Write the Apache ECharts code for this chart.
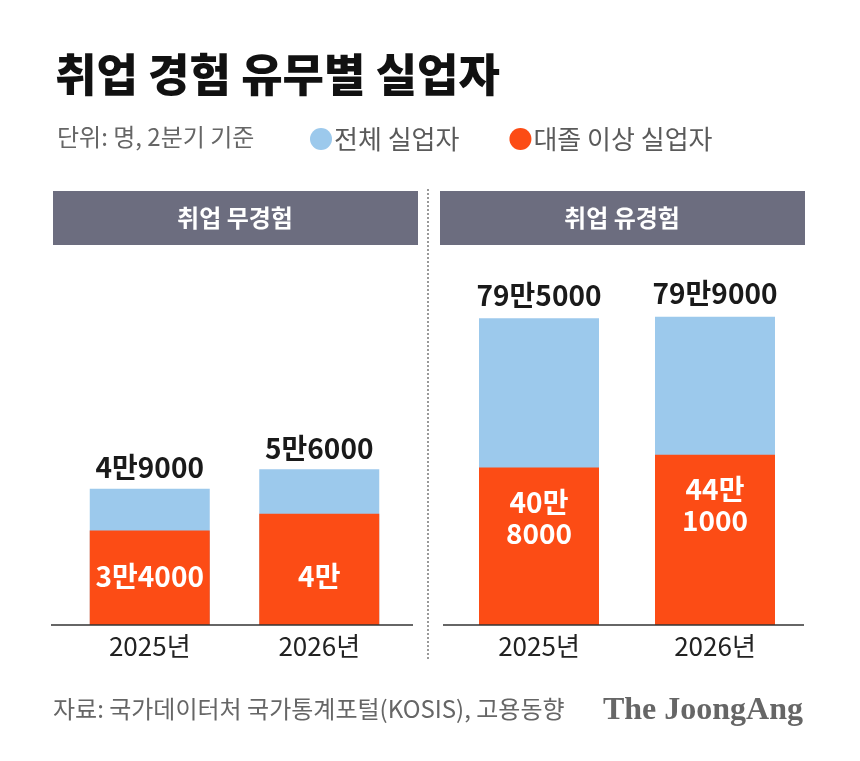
<!DOCTYPE html>
<html>
<head>
<meta charset="utf-8">
<script src="https://cdn.jsdelivr.net/npm/echarts@6/dist/echarts.min.js"></script>
<style>
  html, body { margin: 0; padding: 0; background: #fff; }
  #chart { width: 860px; height: 761px; }
</style>
</head>
<body>
<div id="chart"></div>
<script>
// 데이터 (단위: 명, 2분기 기준)
var years = ["2025년", "2026년"];
var noExpTotal = [49000, 56000];   // 취업 무경험 - 전체 실업자
var noExpGrad = [34000, 40000];    // 취업 무경험 - 대졸 이상 실업자
var expTotal = [795000, 799000];   // 취업 유경험 - 전체 실업자
var expGrad = [408000, 441000];    // 취업 유경험 - 대졸 이상 실업자

var FONT = "'Noto Sans CJK KR', 'Noto Sans', sans-serif";
var BLUE = "#9cc9ec";
var ORANGE = "#fc4c15";
var HEAD = "#6c6d7f";

// 49000 -> "4만9000"
function toMan(v, twoLines) {
  var man = Math.floor(v / 10000);
  var rest = v % 10000;
  if (!rest) return man + "만";
  return man + "만" + (twoLines ? "\n" : "") + rest;
}

var chartDom = document.getElementById("chart");
var myChart = echarts.init(chartDom);
var option;

var totalLabel = {
  show: true,
  position: "top",
  distance: 7,
  fontFamily: FONT,
  fontSize: 28,
  fontWeight: "bold",
  color: "#1a1a1a",
  formatter: function (p) { return toMan(p.value, false); },
};

option = {
  backgroundColor: "#fff",
  animation: false,
  textStyle: { fontFamily: FONT },
  title: [
    {
      text: "취업 경험 유무별 실업자",
      left: 50,
      top: 47,
      textStyle: { fontFamily: FONT, fontSize: 45, fontWeight: 900, color: "#111" },
    },
    {
      text: "단위: 명, 2분기 기준",
      left: 52,
      top: 120,
      textStyle: { fontFamily: FONT, fontSize: 24, fontWeight: "normal", color: "#666" },
    },
  ],
  legend: {
    left: 305,
    top: 121,
    icon: "circle",
    itemWidth: 22,
    itemHeight: 22,
    itemGap: 50,
    textStyle: { fontFamily: FONT, fontSize: 26, color: "#5a5a5a", padding: [0, 0, 0, -3] },
    data: ["전체 실업자", "대졸 이상 실업자"],
  },
  grid: [
    { left: 65, width: 339, top: 245, height: 380 },
    { left: 451, width: 352, top: 245, height: 380 },
  ],
  xAxis: [0, 1].map(function (i) {
    return {
      type: "category",
      gridIndex: i,
      data: years,
      axisLine: { show: false },
      axisTick: { show: false },
      axisLabel: { margin: 8, fontFamily: FONT, fontSize: 26, color: "#222" },
    };
  }),
  yAxis: [
    { type: "value", gridIndex: 0, min: 0, max: 136600, show: false },
    { type: "value", gridIndex: 1, min: 0, max: 985000, show: false },
  ],
  series: [
    {
      name: "전체 실업자",
      type: "bar",
      xAxisIndex: 0,
      yAxisIndex: 0,
      barWidth: 120,
      barGap: "-100%",
      itemStyle: { color: BLUE },
      label: totalLabel,
      data: noExpTotal,
    },
    {
      name: "대졸 이상 실업자",
      type: "bar",
      xAxisIndex: 0,
      yAxisIndex: 0,
      barWidth: 120,
      barGap: "-100%",
      itemStyle: { color: ORANGE },
      label: {
        show: true,
        position: "insideBottom",
        distance: 35,
        fontFamily: FONT,
        fontSize: 28,
        fontWeight: "bold",
        color: "#fff",
        formatter: function (p) { return toMan(p.value, false); },
      },
      data: noExpGrad,
    },
    {
      name: "전체 실업자",
      type: "bar",
      xAxisIndex: 1,
      yAxisIndex: 1,
      barWidth: 120,
      barGap: "-100%",
      itemStyle: { color: BLUE },
      label: Object.assign({}, totalLabel, { distance: 9 }),
      data: expTotal,
    },
    {
      name: "대졸 이상 실업자",
      type: "bar",
      xAxisIndex: 1,
      yAxisIndex: 1,
      barWidth: 120,
      barGap: "-100%",
      itemStyle: { color: ORANGE },
      label: {
        show: true,
        position: "insideTop",
        distance: 19,
        fontFamily: FONT,
        fontSize: 28,
        fontWeight: "bold",
        lineHeight: 31,
        color: "#fff",
        formatter: function (p) { return toMan(p.value, true); },
      },
      data: expGrad,
    },
  ],
  graphic: [
    // 패널 헤더
    { type: "rect", left: 53, top: 191, shape: { width: 365, height: 54 }, style: { fill: HEAD } },
    { type: "rect", left: 440, top: 191, shape: { width: 365, height: 54 }, style: { fill: HEAD } },
    {
      type: "text", x: 235, y: 218,
      style: { text: "취업 무경험", fill: "#fff", font: "bold 24px " + FONT, align: "center", verticalAlign: "middle" },
    },
    {
      type: "text", x: 622, y: 218,
      style: { text: "취업 유경험", fill: "#fff", font: "bold 24px " + FONT, align: "center", verticalAlign: "middle" },
    },
    // 구분 점선
    {
      type: "line",
      shape: { x1: 428, y1: 189, x2: 428, y2: 660 },
      style: { stroke: "#999", lineWidth: 2, lineDash: [2, 2] },
    },
    // 기준선
    { type: "line", shape: { x1: 51, y1: 625, x2: 413, y2: 625 }, style: { stroke: "#333", lineWidth: 1.5 }, z: 10 },
    { type: "line", shape: { x1: 443, y1: 625, x2: 804, y2: 625 }, style: { stroke: "#333", lineWidth: 1.5 }, z: 10 },
    // 출처
    {
      type: "text", x: 53, y: 709,
      style: { text: "자료: 국가데이터처 국가통계포털(KOSIS), 고용동향", fill: "#666", font: "24px " + FONT, verticalAlign: "middle" },
    },
    {
      type: "text", x: 803, y: 711,
      style: { text: "The JoongAng", fill: "#666", font: "bold 32px 'Liberation Serif', serif", align: "right", verticalAlign: "middle" },
    },
  ],
};

option && myChart.setOption(option);
</script>
</body>
</html>
